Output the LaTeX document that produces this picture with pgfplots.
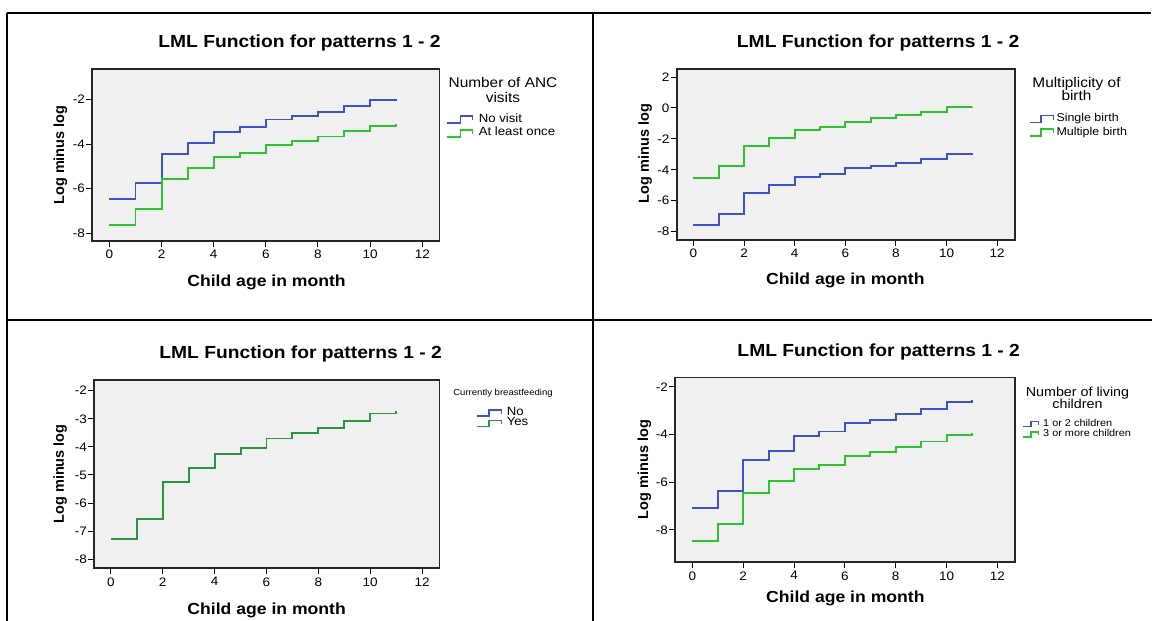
\documentclass[border=0pt]{standalone}
\usepackage{fontspec}
\setmainfont{Liberation Sans}[FakeStretch=1.1]
\newfontfamily\ylabfont{Liberation Sans}
\usepackage{pgfplots}
\pgfplotsset{compat=1.18}

\definecolor{spssblue}{RGB}{60,84,200}
\definecolor{spssgreen}{RGB}{46,196,46}
\definecolor{darkgreen}{RGB}{40,150,60}
\definecolor{plotbg}{RGB}{240,240,240}

\pgfplotsset{
  lml/.style={
    scale only axis, clip=false,
    axis background/.style={fill=plotbg},
    axis line style={line width=1.6pt, black!85},
    tick align=outside, xtick pos=bottom, ytick pos=left,
    major tick length=6pt,
    tick style={line width=1pt, black},
    tick label style={font=\fontsize{12.3}{13}\selectfont},
    yticklabel style={inner sep=1pt},
    xticklabel style={inner sep=3pt},
    /pgf/number format/assume math mode=true,
    xtick={0,2,...,12},
    title={LML Function for patterns 1 - 2},
    title style={anchor=base, font=\fontsize{17.5}{20}\selectfont\bfseries},
    xlabel={Child age in month},
    xlabel style={anchor=base, font=\fontsize{16}{18}\selectfont\bfseries},
    ylabel={Log minus log},
    ylabel style={anchor=base, font=\ylabfont\fontsize{14.5}{16}\selectfont\bfseries},
    every axis plot/.append style={const plot, no marks, line width=1.9pt},
    legend cell align=left,
    legend style={draw=none, fill=none, inner sep=0pt, outer sep=0pt,
      anchor=north west,
      nodes={inner sep=0pt, text height=0.75em, text depth=0.25em}},
  },
  stepicon/.style n args={4}{
    legend image code/.code={\draw[##1, line width=1.5pt] (0pt,-#3) -- (#1,-#3) -- (#1,#3) -- (#2,#3) -- (#2,#4);}},
  iconsep/.style={legend style={/tikz/every odd column/.style={column sep=#1}}},
}

\begin{document}
\begin{tikzpicture}[x=1pt,y=1pt]
\useasboundingbox (0,0) rectangle (1152,621);

% table rules
\draw[line width=1.3pt] (7,608) -- (1151,608);
\draw[line width=2.4pt] (579,608) -- (607,608);
\draw[line width=2pt] (7.3,608) -- (7.3,0);
\draw[line width=2pt] (593,608) -- (593,0);
\draw[line width=2pt] (7,301) -- (1152,301);

% panel 1: ANC visits
\begin{axis}[lml, at={(92.2pt,380pt)}, width=347.3pt, height=172pt,
  xmin=-0.66, xmax=12.66, ymin=-8.34, ymax=-0.64, ytick={-8,-6,-4,-2},
  title style={at={(axis description cs:0.597,1.091)}},
  xlabel style={at={(axis description cs:0.502,-0.262)}},
  ylabel style={at={(axis description cs:-0.081,0.5)}},
  stepicon={13pt}{25pt}{3.5pt}{-0.5pt}, iconsep=5.6pt,
  legend style={at={(axis description cs:1.0207,0.734)},
    font=\fontsize{12}{14}\selectfont, row sep=3.6pt},
]
\addplot[spssblue] coordinates {(0,-6.48) (1,-5.75) (2,-4.43) (3,-3.97) (4,-3.46) (5,-3.25) (6,-2.90) (7,-2.75) (8,-2.55) (9,-2.31) (10,-2.01) (11,-1.97)};
\addlegendentry{No visit}
\addplot[spssgreen] coordinates {(0,-7.63) (1,-6.90) (2,-5.58) (3,-5.09) (4,-4.57) (5,-4.39) (6,-4.03) (7,-3.88) (8,-3.66) (9,-3.43) (10,-3.18) (11,-3.09)};
\addlegendentry{At least once}
\node[anchor=base, font=\fontsize{14}{16}\selectfont] at (axis description cs:1.1828,0.8936) {Number of ANC};
\node[anchor=base, font=\fontsize{14}{16}\selectfont] at (axis description cs:1.1828,0.8064) {visits};
\end{axis}

% panel 2: multiplicity of birth
\begin{axis}[lml, at={(676.7pt,381pt)}, width=338pt, height=171pt,
  xmin=-0.66, xmax=12.69, ymin=-8.54, ymax=2.52, ytick={-8,-6,...,2},
  title style={at={(axis description cs:0.596,1.091)}},
  xlabel style={at={(axis description cs:0.499,-0.263)}},
  ylabel style={at={(axis description cs:-0.082,0.505)}},
  stepicon={11pt}{23.5pt}{3.5pt}{-0.5pt}, iconsep=2.5pt,
  legend style={at={(axis description cs:1.0423,0.736)},
    font=\fontsize{11.3}{13}\selectfont, row sep=3.4pt},
]
\addplot[spssblue] coordinates {(0,-7.57) (1,-6.84) (2,-5.48) (3,-4.96) (4,-4.47) (5,-4.25) (6,-3.91) (7,-3.73) (8,-3.54) (9,-3.30) (10,-3.00) (11,-2.94)};
\addlegendentry{Single birth}
\addplot[spssgreen] coordinates {(0,-4.51) (1,-3.78) (2,-2.44) (3,-1.94) (4,-1.43) (5,-1.21) (6,-0.89) (7,-0.67) (8,-0.48) (9,-0.26) (10,0.04) (11,0.08)};
\addlegendentry{Multiple birth}
\node[anchor=base, font=\fontsize{14}{16}\selectfont] at (axis description cs:1.1828,0.893) {Multiplicity of};
\node[anchor=base, font=\fontsize{14}{16}\selectfont] at (axis description cs:1.1828,0.813) {birth};
\end{axis}

% panel 3: currently breastfeeding
\begin{axis}[lml, at={(94pt,52.7pt)}, width=345.5pt, height=188pt,
  xmin=-0.65, xmax=12.67, ymin=-8.32, ymax=-1.63, ytick={-8,-7,...,-2},
  title style={at={(axis description cs:0.598,1.086)}},
  xlabel style={at={(axis description cs:0.4996,-0.245)}},
  ylabel style={at={(axis description cs:-0.087,0.502)}},
  stepicon={12.5pt}{25pt}{3pt}{-0.5pt}, iconsep=4.3pt,
  legend style={at={(axis description cs:1.1056,0.8526)},
    font=\fontsize{12}{14}\selectfont, row sep=0.3pt},
]
\addplot[spssblue] coordinates {(0,-7.28) (1,-6.57) (2,-5.24) (3,-4.74) (4,-4.24) (5,-4.04) (6,-3.70) (7,-3.52) (8,-3.32) (9,-3.08) (10,-2.81) (11,-2.71)};
\addlegendentry{No}
\addplot[darkgreen] coordinates {(0,-7.28) (1,-6.57) (2,-5.24) (3,-4.74) (4,-4.24) (5,-4.04) (6,-3.70) (7,-3.52) (8,-3.32) (9,-3.08) (10,-2.81) (11,-2.71)};
\addlegendentry{Yes}
\node[anchor=base, font=\fontsize{8.7}{10}\selectfont] at (axis description cs:1.1838,0.9176) {Currently breastfeeding};
\end{axis}

% panel 4: number of living children
\begin{axis}[lml, at={(675pt,58.7pt)}, width=340pt, height=184.6pt,
  xmin=-0.68, xmax=12.69, ymin=-9.36, ymax=-1.61, ytick={-8,-6,-4,-2},
  title style={at={(axis description cs:0.599,1.085)}},
  xlabel style={at={(axis description cs:0.501,-0.220)}},
  ylabel style={at={(axis description cs:-0.079,0.502)}},
  stepicon={8pt}{15.5pt}{2.5pt}{-0.5pt}, iconsep=3.9pt,
  legend style={at={(axis description cs:1.0215,0.776)},
    font=\fontsize{9.9}{11}\selectfont, row sep=0.4pt},
]
\addplot[spssblue] coordinates {(0,-7.09) (1,-6.38) (2,-5.06) (3,-4.67) (4,-4.07) (5,-3.87) (6,-3.51) (7,-3.37) (8,-3.15) (9,-2.92) (10,-2.64) (11,-2.56)};
\addlegendentry{1 or 2 children}
\addplot[spssgreen] coordinates {(0,-8.48) (1,-7.76) (2,-6.46) (3,-5.94) (4,-5.45) (5,-5.26) (6,-4.91) (7,-4.74) (8,-4.53) (9,-4.29) (10,-4.01) (11,-3.93)};
\addlegendentry{3 or more children}
\node[anchor=base, font=\fontsize{13}{15}\selectfont] at (axis description cs:1.1838,0.8955) {Number of living};
\node[anchor=base, font=\fontsize{13}{15}\selectfont] at (axis description cs:1.1838,0.8315) {children};
\end{axis}
\end{tikzpicture}
\end{document}
